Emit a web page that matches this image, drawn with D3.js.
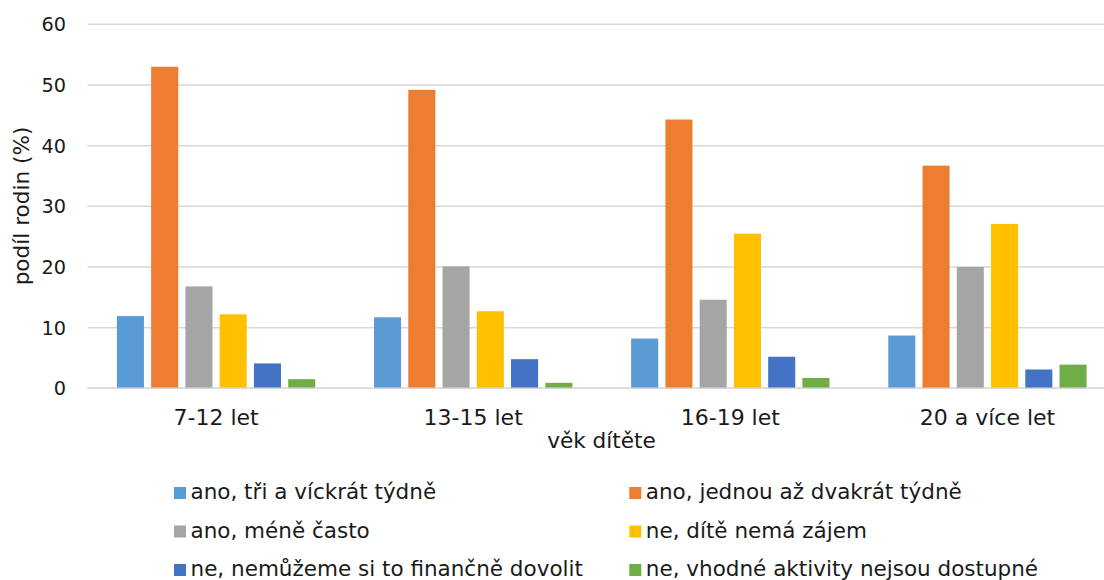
<!DOCTYPE html>
<html>
<head>
<meta charset="utf-8">
<script src="https://cdn.jsdelivr.net/npm/d3@7"></script>
<style>
  html, body { margin: 0; padding: 0; background: #fff; }
  svg { display: block; }
  text { font-family: "DejaVu Sans", Verdana, sans-serif; fill: #1a1a1a; }
</style>
</head>
<body>
<svg id="chart" width="1104" height="580"></svg>
<script>
// Age groups of the child
const categories = ["7-12 let", "13-15 let", "16-19 let", "20 a více let"];

// Answer series (share of families, %)
const seriesNames = [
  "ano, tři a víckrát týdně",
  "ano, jednou až dvakrát týdně",
  "ano, méně často",
  "ne, dítě nemá zájem",
  "ne, nemůžeme si to finančně dovolit",
  "ne, vhodné aktivity nejsou dostupné"
];
const seriesColors = ["#5B9BD5", "#ED7D31", "#A5A5A5", "#FFC000", "#4472C4", "#70AD47"];

const s1 = [11.9, 11.7, 8.2, 8.7];   // ano, tři a víckrát týdně
const s2 = [53.0, 49.2, 44.3, 36.7]; // ano, jednou až dvakrát týdně
const s3 = [16.8, 20.1, 14.6, 20.0]; // ano, méně často
const s4 = [12.2, 12.7, 25.5, 27.1]; // ne, dítě nemá zájem
const s5 = [4.1, 4.8, 5.2, 3.1];     // ne, nemůžeme si to finančně dovolit
const s6 = [1.5, 0.9, 1.7, 3.9];     // ne, vhodné aktivity nejsou dostupné
const seriesValues = [s1, s2, s3, s4, s5, s6];

const yTicks = [0, 10, 20, 30, 40, 50, 60];
const yTitle = "podíl rodin (%)";
const xTitle = "věk dítěte";

const svg = d3.select("#chart");
const tickFont = 19.3;
const catFont = 22;
const titleFont = 21.6;
const legendFont = 21.5;

const x0 = d3.scaleBand().domain(categories).range([87.5, 1116]).paddingInner(0).paddingOuter(0);
const x1 = d3.scaleBand().domain(d3.range(seriesNames.length))
  .range([29.4, x0.bandwidth() - 29.4]).paddingInner(0.21).paddingOuter(0);
const y = d3.scaleLinear().domain([0, 60]).range([388.3, 24.3]);

// gridlines
svg.append("g").selectAll("line").data(yTicks).join("line")
  .attr("x1", 87.5).attr("x2", 1116)
  .attr("y1", d => y(d)).attr("y2", d => y(d))
  .attr("stroke", "#d9d9d9").attr("stroke-width", 1.5);

// y tick labels
svg.append("g").selectAll("text").data(yTicks).join("text")
  .attr("x", 66).attr("y", d => y(d)).attr("dy", "0.37em")
  .attr("text-anchor", "end").style("font-size", tickFont + "px")
  .text(d => d);

// bars
const groups = svg.append("g").selectAll("g").data(categories).join("g")
  .attr("transform", d => `translate(${x0(d)},0)`);
groups.selectAll("rect")
  .data((c, ci) => seriesValues.map((vals, si) => ({ si, v: vals[ci] })))
  .join("rect")
  .attr("x", d => x1(d.si))
  .attr("width", x1.bandwidth())
  .attr("y", d => y(d.v))
  .attr("height", d => y(0) - y(d.v))
  .attr("fill", d => seriesColors[d.si]);

// redraw the baseline over the bars
svg.append("line").attr("x1", 87.5).attr("x2", 1116)
  .attr("y1", y(0)).attr("y2", y(0))
  .attr("stroke", "#d9d9d9").attr("stroke-width", 1.5);

// category labels
svg.append("g").selectAll("text").data(categories).join("text")
  .attr("x", d => x0(d) + x0.bandwidth() / 2).attr("y", 425)
  .attr("text-anchor", "middle").style("font-size", catFont + "px")
  .text(d => d);

// axis titles
svg.append("text").attr("x", 601.5).attr("y", 448)
  .attr("text-anchor", "middle").style("font-size", titleFont + "px").text(xTitle);
svg.append("text").attr("transform", "translate(29,206) rotate(-90)")
  .attr("text-anchor", "middle").style("font-size", titleFont + "px").text(yTitle);

// legend: two columns, three rows
const legendCols = [174, 629.3];
const legendRows = [499, 537.5, 576];
const legend = svg.append("g").selectAll("g").data(seriesNames).join("g")
  .attr("transform", (d, i) => `translate(${legendCols[i % 2]},${legendRows[Math.floor(i / 2)]})`);
legend.append("rect").attr("x", 0).attr("y", -12).attr("width", 12).attr("height", 12)
  .attr("fill", (d, i) => seriesColors[i]);
legend.append("text").attr("x", 16.5).attr("y", 0)
  .style("font-size", legendFont + "px").text(d => d);
</script>
</body>
</html>
